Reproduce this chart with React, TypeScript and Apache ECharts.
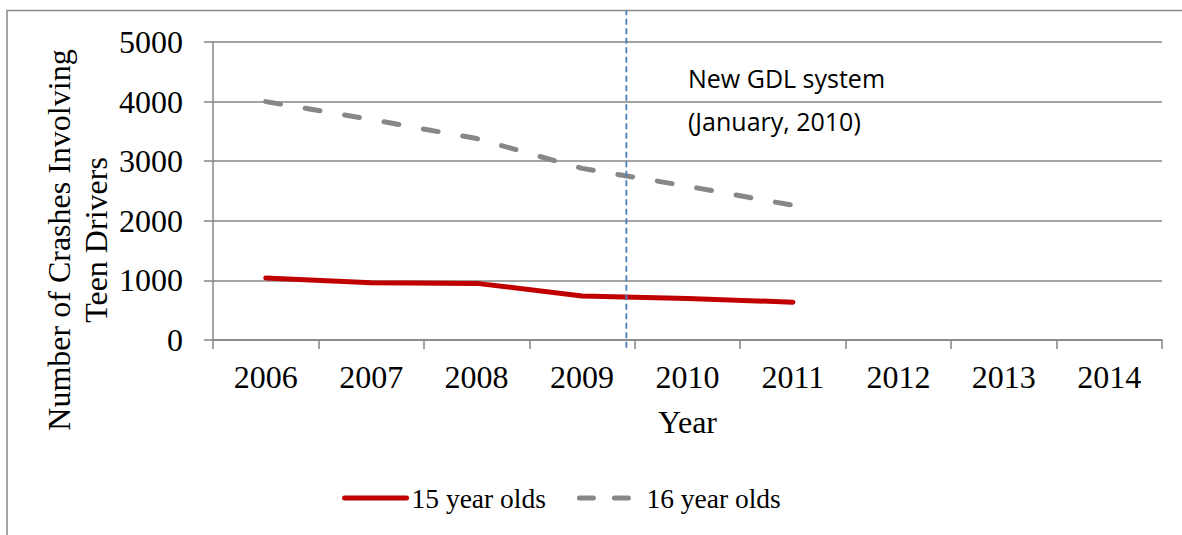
import React, { useEffect, useRef } from "react";
import * as echarts from "echarts";

const years = ["2006", "2007", "2008", "2009", "2010", "2011", "2012", "2013", "2014"];
const teen15 = [1040, 960, 950, 740, 695, 635];
const teen16 = [4000, 3700, 3380, 2880, 2580, 2260];
const seriesNames = ["15 year olds", "16 year olds"];
const yMin = 0;
const yMax = 5000;
const yInterval = 1000;
// position of the GDL marker, in category-index units (2006 = 0)
const gdlPosition = 3.42;
const gdlLine = [
  [gdlPosition, -130],
  [gdlPosition, 5530],
];
const annotationLines = ["New GDL system", "(January, 2010)"];
const yAxisTitle = "Number of Crashes Involving\nTeen Drivers";
const xAxisTitle = "Year";

const SERIF = "'Liberation Serif', 'Times New Roman', serif";
const SANS = "'Open Sans', 'Noto Sans', sans-serif";
const GRID_COLOR = "#868686";

export default function App() {
  const ref = useRef<HTMLDivElement>(null);
  useEffect(() => {
    if (!ref.current) return;
    const chart = echarts.init(ref.current, undefined, { renderer: "svg" });
    chart.setOption({
      animation: false,
      backgroundColor: "#ffffff",
      grid: { left: 213, right: 20, top: 42, bottom: 195, containLabel: false },
      xAxis: [
        {
          type: "category",
          data: years,
          boundaryGap: true,
          name: xAxisTitle,
          nameLocation: "middle",
          nameGap: 66,
          nameTextStyle: { fontFamily: SERIF, fontSize: 32, color: "#000" },
          axisLine: { show: true, onZero: false, lineStyle: { color: GRID_COLOR, width: 1.5 } },
          axisTick: { show: true, length: 9, inside: false, lineStyle: { color: GRID_COLOR, width: 1.5 } },
          axisLabel: { fontFamily: SERIF, fontSize: 32, color: "#000", margin: 21, interval: 0 },
          splitLine: { show: false },
        },
        {
          type: "value",
          min: -0.5,
          max: 8.5,
          show: false,
          position: "top",
        },
      ],
      yAxis: {
        type: "value",
        min: yMin,
        max: yMax,
        interval: yInterval,
        axisLine: { show: true, onZero: false, lineStyle: { color: GRID_COLOR, width: 1.5 } },
        axisTick: { show: true, length: 9, inside: false, lineStyle: { color: GRID_COLOR, width: 1.5 } },
        axisLabel: {
          fontFamily: SERIF,
          fontSize: 32,
          color: "#000",
          margin: 30,
          formatter: (v: number) => String(v),
        },
        splitLine: { show: true, lineStyle: { color: GRID_COLOR, width: 1.5 } },
      },
      legend: {
        data: [
          { name: seriesNames[0] },
          { name: seriesNames[1], lineStyle: { type: [14, 21] } },
        ],
        left: 337,
        top: 479,
        itemWidth: 62,
        itemHeight: 2,
        itemGap: 31,
        itemStyle: { opacity: 0 },
        lineStyle: { width: 5, cap: "round" },
        textStyle: { fontFamily: SERIF, fontSize: 27.5, color: "#000" },
      },
      series: [
        {
          name: seriesNames[0],
          type: "line",
          data: teen15,
          symbol: "none",
          showSymbol: false,
          lineStyle: { color: "#c00000", width: 5, cap: "round", join: "round" },
          itemStyle: { color: "#c00000" },
          z: 3,
        },
        {
          name: seriesNames[1],
          type: "line",
          data: teen16,
          symbol: "none",
          showSymbol: false,
          lineStyle: { color: "#878787", width: 5, type: [15, 25], cap: "round", join: "round" },
          itemStyle: { color: "#878787" },
          z: 3,
        },
        {
          name: "GDL",
          type: "line",
          xAxisIndex: 1,
          yAxisIndex: 0,
          data: gdlLine,
          symbol: "none",
          showSymbol: false,
          clip: false,
          lineStyle: { color: "#4a7ebb", width: 1.8, type: [6, 3.5] },
          silent: true,
          z: 4,
        },
      ],
      graphic: [
        {
          type: "rect",
          shape: { x: 7, y: 10.5, width: 1400, height: 700 },
          style: { fill: "none", stroke: "#898989", lineWidth: 1.5 },
          silent: true,
          z: -1,
        },
        {
          type: "text",
          x: 77.5,
          y: 240,
          rotation: Math.PI / 2,
          style: {
            text: yAxisTitle,
            fontFamily: SERIF,
            fontSize: 32,
            lineHeight: 37,
            fill: "#000",
            align: "center",
            verticalAlign: "middle",
          },
        },
        {
          type: "text",
          x: 688,
          y: 77.5,
          style: {
            text: annotationLines[0],
            fontFamily: SANS,
            fontSize: 25,
            fill: "#000",
            align: "left",
            verticalAlign: "middle",
          },
        },
        {
          type: "text",
          x: 688,
          y: 121,
          style: {
            text: annotationLines[1],
            fontFamily: SANS,
            fontSize: 25,
            fill: "#000",
            align: "left",
            verticalAlign: "middle",
          },
        },
      ],
    });
    return () => chart.dispose();
  }, []);
  return (
    <div
      ref={ref}
      style={{ position: "absolute", left: 0, top: 0, width: 1182, height: 535, background: "#fff" }}
    />
  );
}
